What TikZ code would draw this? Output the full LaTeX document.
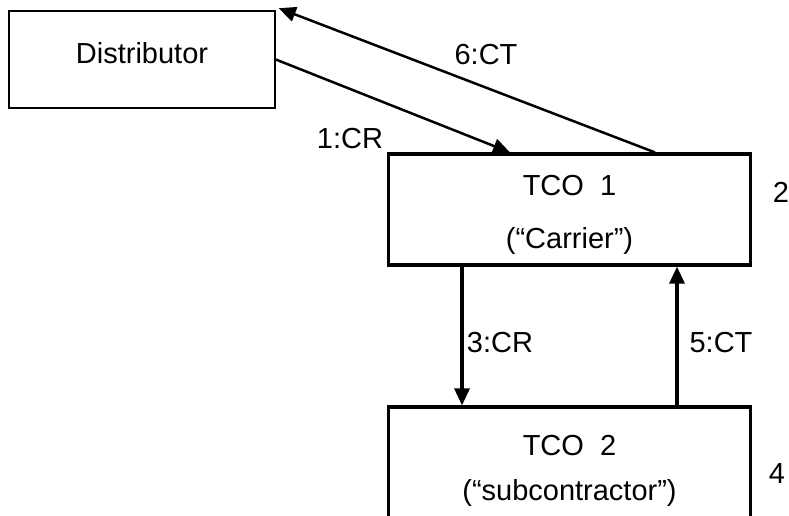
\documentclass[tikz,border=0pt]{standalone}
\usepackage{fontspec}
\setmainfont{Liberation Sans}
\usepackage{tikz}
\usetikzlibrary{arrows.meta,calc}

\tikzset{
  thinbox/.style={draw, line width=1.6pt, minimum width=266pt, minimum height=97pt, inner sep=0pt},
  tcobox/.style={draw, line width=3.2pt, minimum width=362pt, minimum height=111pt, inner sep=0pt},
  txt/.style={anchor=base, inner sep=0pt, font=\fontsize{29}{34}\selectfont},
  msg/.style={line width=2.5pt, -{Triangle[length=17pt,width=15pt]}},
  vmsg/.style={line width=3.2pt, -{Triangle[length=17pt,width=15pt]}}
}

\begin{document}
\begin{tikzpicture}[x=1pt,y=-1pt]
\useasboundingbox (0,0) rectangle (789,515);
\clip (0,0) rectangle (789,515);

\node [thinbox] (dist) at (142,59.5) {};
\node [tcobox] (tco1) at (569.5,209.5) {};
\node [tcobox, minimum height=140pt] (tco2) at (569.5,477) {};

\node [txt] (distname) at (142,63) {Distributor};
\node [txt] (tco1name) at (569.5,195) {TCO\ \ 1};
\node [txt] (tco1role) at (569.5,248) {(“Carrier”)};
\node [txt] (tco2name) at (569.5,455) {TCO\ \ 2};
\node [txt] (tco2role) at (569.5,500) {(“subcontractor”)};
\node [txt] (num2) at (781,202) {2};
\node [txt] (num4) at (777,483) {4};

\coordinate (crin) at ($(tco1.north)+(-59.5,0)$);
\coordinate (ctout) at ($(tco1.north)+(85.5,0)$);
\coordinate (crdown) at ($(tco1.south)+(-107.5,0)$);
\coordinate (ctup) at ($(tco1.south)+(107.5,0)$);

\draw [msg] (dist.east) -- (crin);
\draw [msg] (ctout) -- ($(dist.north east)+(3,-2)$);
\draw [vmsg] (crdown) -- (crdown |- tco2.north);
\draw [vmsg] (ctup |- tco2.north) -- (ctup);

\node [txt] (m1) at (350,148) {1:CR};
\node [txt] (m6) at (486,64) {6:CT};
\node [txt] (m3) at (500,352) {3:CR};
\node [txt] (m5) at (721,352) {5:CT};

\end{tikzpicture}
\end{document}
